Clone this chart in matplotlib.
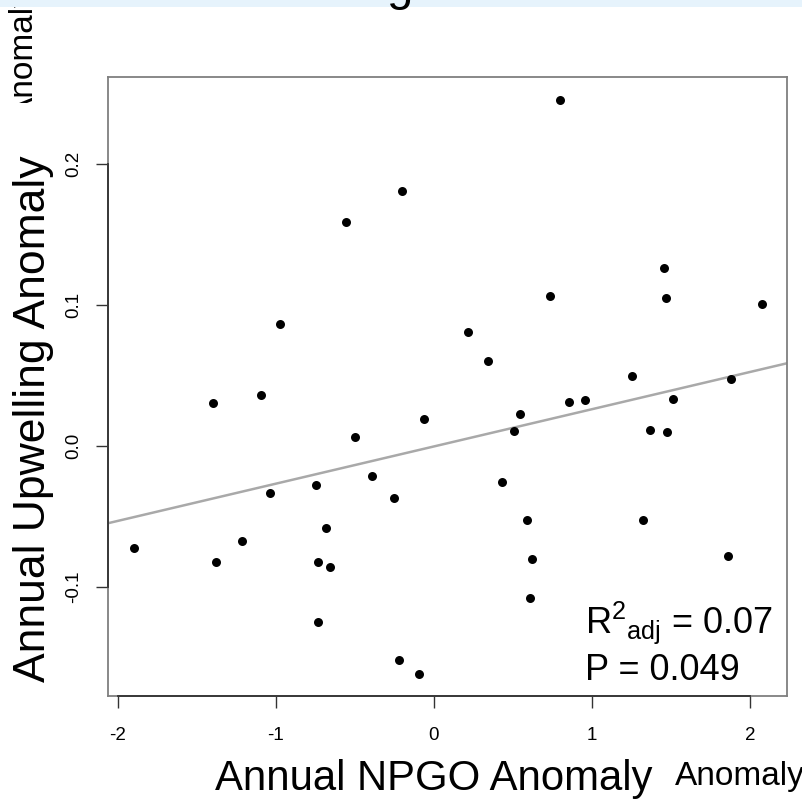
import numpy as np
import matplotlib
matplotlib.use("Agg")
import matplotlib.pyplot as plt
from matplotlib.patches import Rectangle
from matplotlib.transforms import Bbox

plt.rcParams['font.family'] = ['Liberation Sans', 'DejaVu Sans']
plt.rcParams['mathtext.fontset'] = 'custom'
plt.rcParams['mathtext.rm'] = 'Liberation Sans'
plt.rcParams['mathtext.it'] = 'Liberation Sans:italic'

# ---- data ----
npgo = [-0.20, -0.555, -0.973, 0.80, 1.454, 0.734, 1.470, 2.078, 0.213, 0.342,
        -1.397, -1.095, -0.063, -0.498, -0.39, -0.745, -1.038, -0.255, -0.684,
        -1.899, -1.213, -1.378, -0.734, -0.658, -0.734, -0.224, -0.093,
        1.251, 1.880, 1.515, 0.857, 0.954, 0.544, 0.508, 1.367, 1.477,
        0.43, 0.591, 1.325, 0.622, 1.863, 0.61]
upwelling = [0.181, 0.159, 0.0867, 0.2454, 0.126, 0.1064, 0.1047, 0.1007, 0.081, 0.0605,
             0.0305, 0.0362, 0.0191, 0.0062, -0.0211, -0.0279, -0.0336, -0.0369, -0.058,
             -0.0721, -0.0676, -0.0823, -0.0823, -0.0856, -0.1248, -0.152, -0.162,
             0.0494, 0.0473, 0.0336, 0.031, 0.0324, 0.0225, 0.0104, 0.0111, 0.0099,
             -0.0255, -0.0522, -0.0522, -0.0804, -0.0783, -0.108]
fit_intercept = -0.0003
fit_slope = 0.0264
xticks = [-2, -1, 0, 1, 2]
xticklabels = ['-2', '-1', '0', '1', '2']
yticks = [-0.1, 0.0, 0.1, 0.2]
yticklabels = ['-0.1', '0.0', '0.1', '0.2']
xlabel = 'Annual NPGO Anomaly'
ylabel = 'Annual Upwelling Anomaly'
stat1 = r'$\mathrm{R}^{2}{}_{\mathrm{adj}}$ = 0.07'
stat2 = 'P = 0.049'

W, H = 803, 800
fig = plt.figure(figsize=(W / 100, H / 100), dpi=100)
fig.patch.set_facecolor('white')

def fx(px):
    return px / W

def fy(py):
    return (H - py) / H

# top band
fig.patches.append(Rectangle((0, fy(7)), 1, 1 - fy(7), transform=fig.transFigure,
                             facecolor='#E6F3FC', edgecolor='none', zorder=0))
fig.text(fx(400), 1.0, 'g', ha='center', va='baseline', fontsize=34, color='black')

# clipped left text fragment
t = fig.text(fx(33), fy(119), 'Anomaly', rotation=90, rotation_mode='anchor',
             ha='left', va='baseline', fontsize=24, color='black')
t.set_clip_box(Bbox.from_extents(0, H - 103, 60, H - 7))
t.set_clip_on(True)

ax = fig.add_axes([fx(108), fy(696), fx(787) - fx(108), fy(77) - fy(696)])
ax.set_xlim(-2.063, 2.234)
ax.set_ylim(-0.1773, 0.2617)

ax.scatter(npgo, upwelling, s=42, color='black', zorder=3, linewidths=0)
ax.axline((0, fit_intercept), slope=fit_slope, color='#A9A9A9', lw=1.8, zorder=2)

for s in ax.spines.values():
    s.set_color('#7f7f7f')
    s.set_linewidth(1.3)

ax.set_xticks(xticks)
ax.set_xticklabels(xticklabels)
ax.set_yticks(yticks)
ax.set_yticklabels(yticklabels, rotation=90, va='center')
ax.tick_params(axis='both', length=8.6, width=1.0, color='#333333', labelsize=13.5)
ax.tick_params(axis='x', pad=14)
ax.tick_params(axis='y', pad=10)

# axis lines spanning the ticks (R style)
ax.plot([xticks[0], xticks[-1]], [0, 0], transform=ax.get_xaxis_transform(),
        color='#333333', lw=1.3, clip_on=False, zorder=4)
ax.plot([0, 0], [yticks[0], yticks[-1]], transform=ax.get_yaxis_transform(),
        color='#333333', lw=1.3, clip_on=False, zorder=4)

ax.text(fx(585), fy(633), stat1, transform=fig.transFigure, fontsize=26,
        ha='left', va='baseline')
ax.text(fx(585), fy(680), stat2, transform=fig.transFigure, fontsize=26,
        ha='left', va='baseline')

fig.text(fx(215), fy(790), xlabel, ha='left', va='baseline', fontsize=30.2)
fig.text(fx(675), fy(785), 'Anomaly', ha='left', va='baseline', fontsize=24)
fig.text(fx(34), fy(419), ylabel, rotation=90, ha='center', va='center', fontsize=32)

fig.savefig('out.png', dpi=100)
